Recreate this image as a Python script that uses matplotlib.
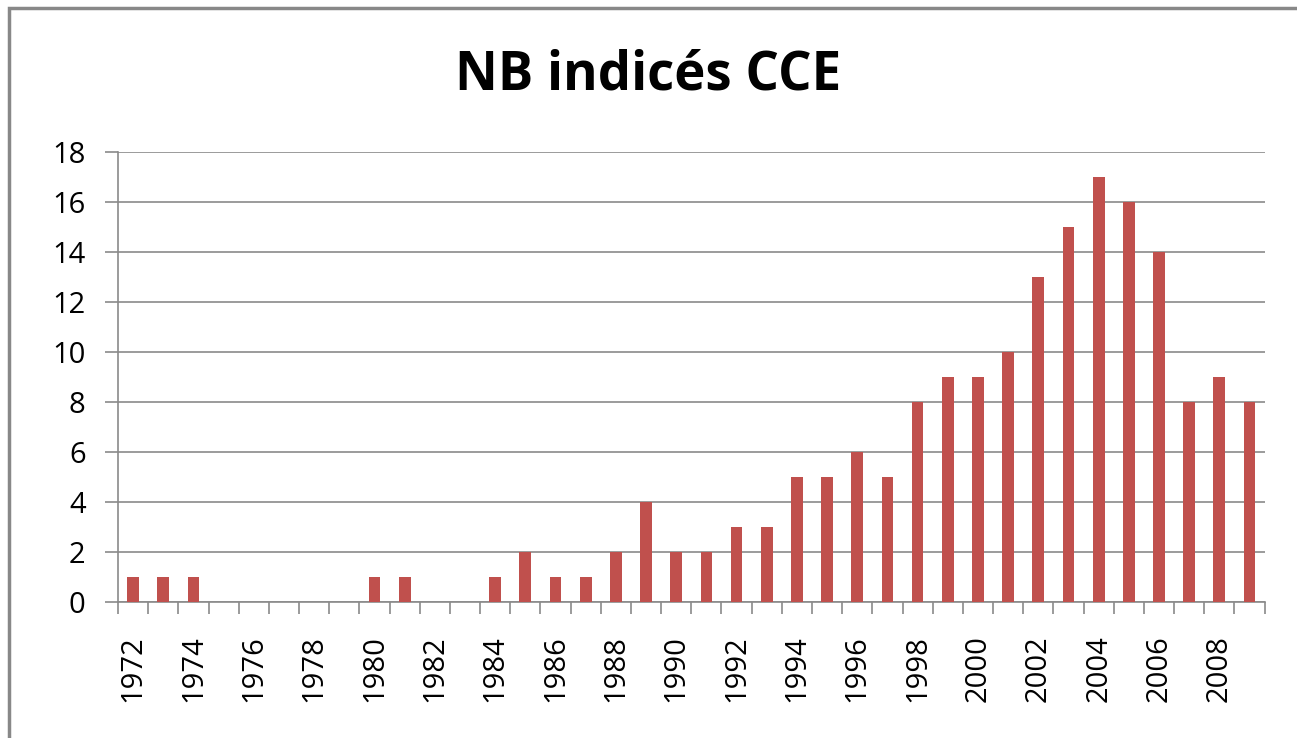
import numpy as np
import matplotlib
matplotlib.use("Agg")
import matplotlib.pyplot as plt
from matplotlib.patches import Rectangle

years = list(range(1972, 2010))
counts = [1, 1, 1, 0, 0, 0, 0, 0, 1, 1, 0, 0, 1, 2, 1, 1, 2, 4, 2, 2,
          3, 3, 5, 5, 6, 5, 8, 9, 9, 10, 13, 15, 17, 16, 14, 8, 9, 8]
yticks = list(range(0, 19, 2))

plt.rcParams['font.family'] = ['Open Sans', 'DejaVu Sans']

fig = plt.figure(figsize=(12.97, 7.38), dpi=100)
ax = fig.add_axes([0.091, 0.1843, 0.884, 0.6097])

x = np.arange(len(years))
ax.bar(x, counts, width=0.39, color='#C0504D', zorder=3)

ax.set_xlim(-0.5, len(years) - 0.5)
ax.set_ylim(0, 18)
ax.set_yticks(yticks)
ax.set_yticklabels([str(v) for v in yticks], fontsize=21)
ax.yaxis.grid(True, color='#8a8a8a', linewidth=1.2, zorder=0)

# labels every other year, ticks on category boundaries
ax.set_xticks(x[::2])
ax.set_xticklabels([str(y) for y in years[::2]], rotation=90, fontsize=21)
ax.tick_params(axis='x', length=0, pad=24)
ax.set_xticks(np.arange(-0.5, len(years)), minor=True)
ax.tick_params(axis='x', which='minor', length=8.6, color='#8a8a8a', width=1.2)
ax.tick_params(axis='y', length=9.4, color='#8a8a8a', width=1.2, pad=14)

for s in ['top', 'right']:
    ax.spines[s].set_visible(False)
for s in ['left', 'bottom']:
    ax.spines[s].set_color('#8a8a8a')
    ax.spines[s].set_linewidth(1.2)

fig.text(0.5, 0.898, 'NB indicés CCE', ha='center', va='center',
         fontsize=38, fontweight='bold')

# chart frame
fig.patches.append(Rectangle((0.007, -0.01), 1.1, 0.999, transform=fig.transFigure,
                             fill=False, edgecolor='#888888', linewidth=2.5))

fig.savefig('out.png', dpi=100)
